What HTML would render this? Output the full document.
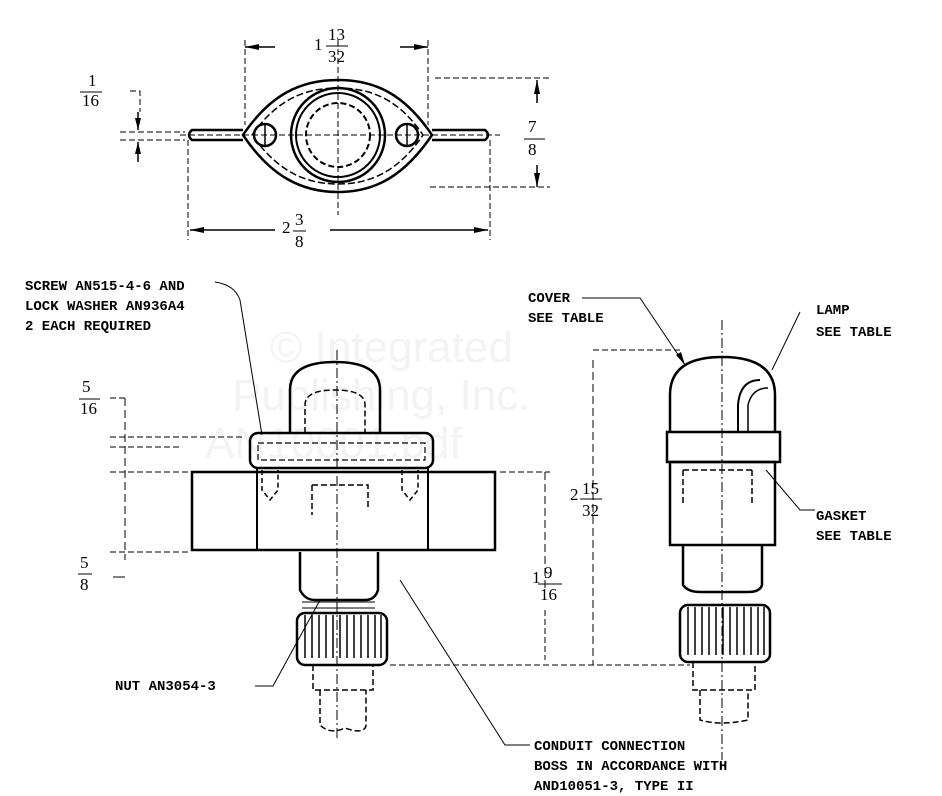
<!DOCTYPE html><html><head><style>body{margin:0;background:#fff}svg{display:block}
text{font-family:"Liberation Mono",monospace;font-size:14px;fill:#000;font-weight:bold}
.f{font-family:"Liberation Serif",serif;font-size:17px;font-weight:normal}
.w{fill:#f3f3f3;font-family:"Liberation Sans",sans-serif;font-size:44px;font-weight:normal}</style></head><body>
<svg width="942" height="796" viewBox="0 0 942 796" xmlns="http://www.w3.org/2000/svg">
<text class="w" x="270" y="362">© Integrated</text><text class="w" x="232" y="410">Publishing, Inc.</text><text class="w" x="205" y="458">AN10001.pdf</text>
<g fill="none" stroke="#000" stroke-width="2">
<!-- top view -->
<path d="M243 135 C270 95 300 80 338 80 C376 80 405 95 432 135 C405 175 376 192 338 192 C300 192 270 175 243 135Z" stroke-width="2.5"/>
<path d="M252 135 C276 101 303 88 338 88 C373 88 400 101 423 135 C400 169 373 184 338 184 C303 184 276 169 252 135Z" stroke-dasharray="7 3" stroke-width="1.5"/>
<circle cx="338" cy="135" r="47" stroke-width="2.5"/><circle cx="338" cy="135" r="42"/><circle cx="338" cy="135" r="32" stroke-dasharray="6 3"/>
<circle cx="265" cy="135" r="11" stroke-width="2.5"/><circle cx="407" cy="135" r="11" stroke-width="2.5"/>
<path d="M265 124 V146 M407 124 V146" stroke-width="1.5"/>
<path d="M243 130 H192 Q186 135 192 140 H243 M432 130 H485 Q491 135 485 140 H432" stroke-width="2.5"/>
<g stroke-width="1" stroke-dasharray="6 3"><path d="M245 40 V125 M428 40 V125 M188 140 V240 M490 140 V240 M435 78 H550 M430 187 H550 M120 132 H185 M120 140 H185 M130 91 H140 V112 M338 40 V215 M180 135 H500"/></g>
<path d="M245 47 H275 M400 47 H428 M537 80 V103 M537 165 V187 M190 230 H275 M330 230 H488 M138 112 V130 M138 142 V162" stroke-width="1.5"/>
<!-- front view -->
<path d="M290 433 V390 Q290 362 335 362 Q380 362 380 390 V433" stroke-width="2.5"/>
<path d="M305 433 V405 Q305 390 335 390 Q365 390 365 405 V433" stroke-dasharray="6 3" stroke-width="1.5"/>
<rect x="250" y="433" width="183" height="35" rx="8" stroke-width="2.5"/>
<path d="M258 443 H425 V460 H258Z" stroke-dasharray="6 3" stroke-width="1.2"/>
<rect x="192" y="472" width="303" height="78" stroke-width="2.5"/>
<path d="M257 468 V550 M428 468 V550"/>
<path d="M312 485 H368 V510 M312 485 V515" stroke-dasharray="6 3" stroke-width="1.5"/>
<path d="M262 470 V490 L270 500 L278 490 V470 M402 470 V490 L410 500 L418 490 V470" stroke-dasharray="5 3" stroke-width="1.5"/>
<path d="M300 552 V590 Q305 600 315 600 H365 Q375 600 378 590 V552" stroke-width="2.5"/>
<path d="M302 602 H375 M302 608 H375" stroke-width="1"/>
<rect x="297" y="613" width="90" height="52" rx="8" stroke-width="2.5"/>
<g stroke-width="1.5"><path d="M305 615 V658 M312 615 V658 M319 615 V658 M326 615 V658 M333 615 V658 M340 615 V658 M347 615 V658 M354 615 V658 M361 615 V658 M368 615 V658 M375 615 V658 M381 615 V658"/></g>
<path d="M313 665 V690 H373 V665 M320 690 V725 Q330 735 345 728 Q365 735 366 725 V690" stroke-dasharray="6 3" stroke-width="1.5"/>
<path d="M337 350 V740" stroke-width="1" stroke-dasharray="10 3 2 3"/>
<g stroke-width="1" stroke-dasharray="6 3"><path d="M110 398 H128 M110 437 H245 M110 447 H180 M110 472 H188 M110 552 H190 M500 472 H550 M390 665 H690 M545 610 V660 M593 350 H680"/></g>
<path d="M125 398 V560 M545 472 V590 M593 360 V665" stroke-width="1" stroke-dasharray="8 4"/>
<path d="M113 577 H125" stroke-width="1"/>
<!-- side view -->
<path d="M670 432 V395 Q670 357 722 357 Q775 357 775 395 V432" stroke-width="2.5"/>
<path d="M738 432 V405 Q740 380 760 380" stroke-width="2"/>
<path d="M748 432 V405 Q752 388 768 388" stroke-width="1.5"/>
<rect x="667" y="432" width="113" height="30" stroke-width="2.5"/>
<rect x="670" y="462" width="105" height="83" stroke-width="2.5"/>
<path d="M683 470 V505 M752 470 V505 M683 470 H752" stroke-dasharray="6 3" stroke-width="1.5"/>
<path d="M683 545 V585 Q688 592 700 592 H748 Q760 592 762 585 V545" stroke-width="2.5"/>
<rect x="680" y="605" width="90" height="57" rx="8" stroke-width="2.5"/>
<g stroke-width="1.5"><path d="M688 607 V655 M695 607 V655 M702 607 V655 M709 607 V655 M716 607 V655 M723 607 V655 M730 607 V655 M737 607 V655 M744 607 V655 M751 607 V655 M758 607 V655 M764 607 V655"/></g>
<path d="M693 662 V690 H755 V662 M700 690 V720 Q720 726 748 720 V690" stroke-dasharray="6 3" stroke-width="1.5"/>
<path d="M722 320 V760" stroke-width="1" stroke-dasharray="10 3 2 3"/>
<g stroke-width="1"><path d="M215 282 Q235 285 240 300 L262 435 M582 298 H640 L685 365 M800 312 L772 370 M766 470 L800 510 H815 M255 686 H273 L320 600 M530 745 H505 L400 580"/></g>
</g>
<g fill="#000"><path d="M245 47 l14 -3 v6z M428 47 l-14 -3 v6z M537 80 l-3 14 h6z M537 187 l-3 -14 h6z M190 230 l14 -3 v6z M488 230 l-14 -3 v6z M138 130 l-3 -12 h6z M138 142 l-3 12 h6z M685 365 l-9 -10 l5 -3z"/></g>
<text class="f" x="314" y="50">1</text><text class="f" x="328" y="40">13</text><text class="f" x="328" y="62">32</text>
<line x1="326" y1="46" x2="348" y2="46" stroke="#000"/>
<text class="f" x="88" y="86">1</text><text class="f" x="82" y="106">16</text><line x1="80" y1="92" x2="102" y2="92" stroke="#000"/>
<text class="f" x="528" y="132">7</text><text class="f" x="528" y="155">8</text><line x1="524" y1="139" x2="545" y2="139" stroke="#000"/>
<text class="f" x="282" y="233">2</text><text class="f" x="295" y="225">3</text><text class="f" x="295" y="247">8</text><line x1="293" y1="231" x2="306" y2="231" stroke="#000"/>
<text class="f" x="82" y="392">5</text><text class="f" x="80" y="414">16</text><line x1="79" y1="399" x2="100" y2="399" stroke="#000"/>
<text class="f" x="80" y="568">5</text><text class="f" x="80" y="590">8</text><line x1="78" y1="574" x2="92" y2="574" stroke="#000"/>
<text class="f" x="532" y="583">1</text><text class="f" x="544" y="578">9</text><text class="f" x="540" y="600">16</text><line x1="538" y1="584" x2="562" y2="584" stroke="#000"/>
<text class="f" x="570" y="500">2</text><text class="f" x="582" y="494">15</text><text class="f" x="582" y="516">32</text><line x1="580" y1="499" x2="602" y2="499" stroke="#000"/>
<text x="25" y="290">SCREW AN515-4-6 AND</text>
<text x="25" y="310">LOCK WASHER AN936A4</text>
<text x="25" y="330">2 EACH REQUIRED</text>
<text x="528" y="302">COVER</text><text x="528" y="322">SEE TABLE</text>
<text x="816" y="314">LAMP</text><text x="816" y="336">SEE TABLE</text>
<text x="816" y="520">GASKET</text><text x="816" y="540">SEE TABLE</text>
<text x="115" y="690">NUT AN3054-3</text>
<text x="534" y="750">CONDUIT CONNECTION</text>
<text x="534" y="770">BOSS IN ACCORDANCE WITH</text>
<text x="534" y="790">AND10051-3, TYPE II</text>
</svg></body></html>
